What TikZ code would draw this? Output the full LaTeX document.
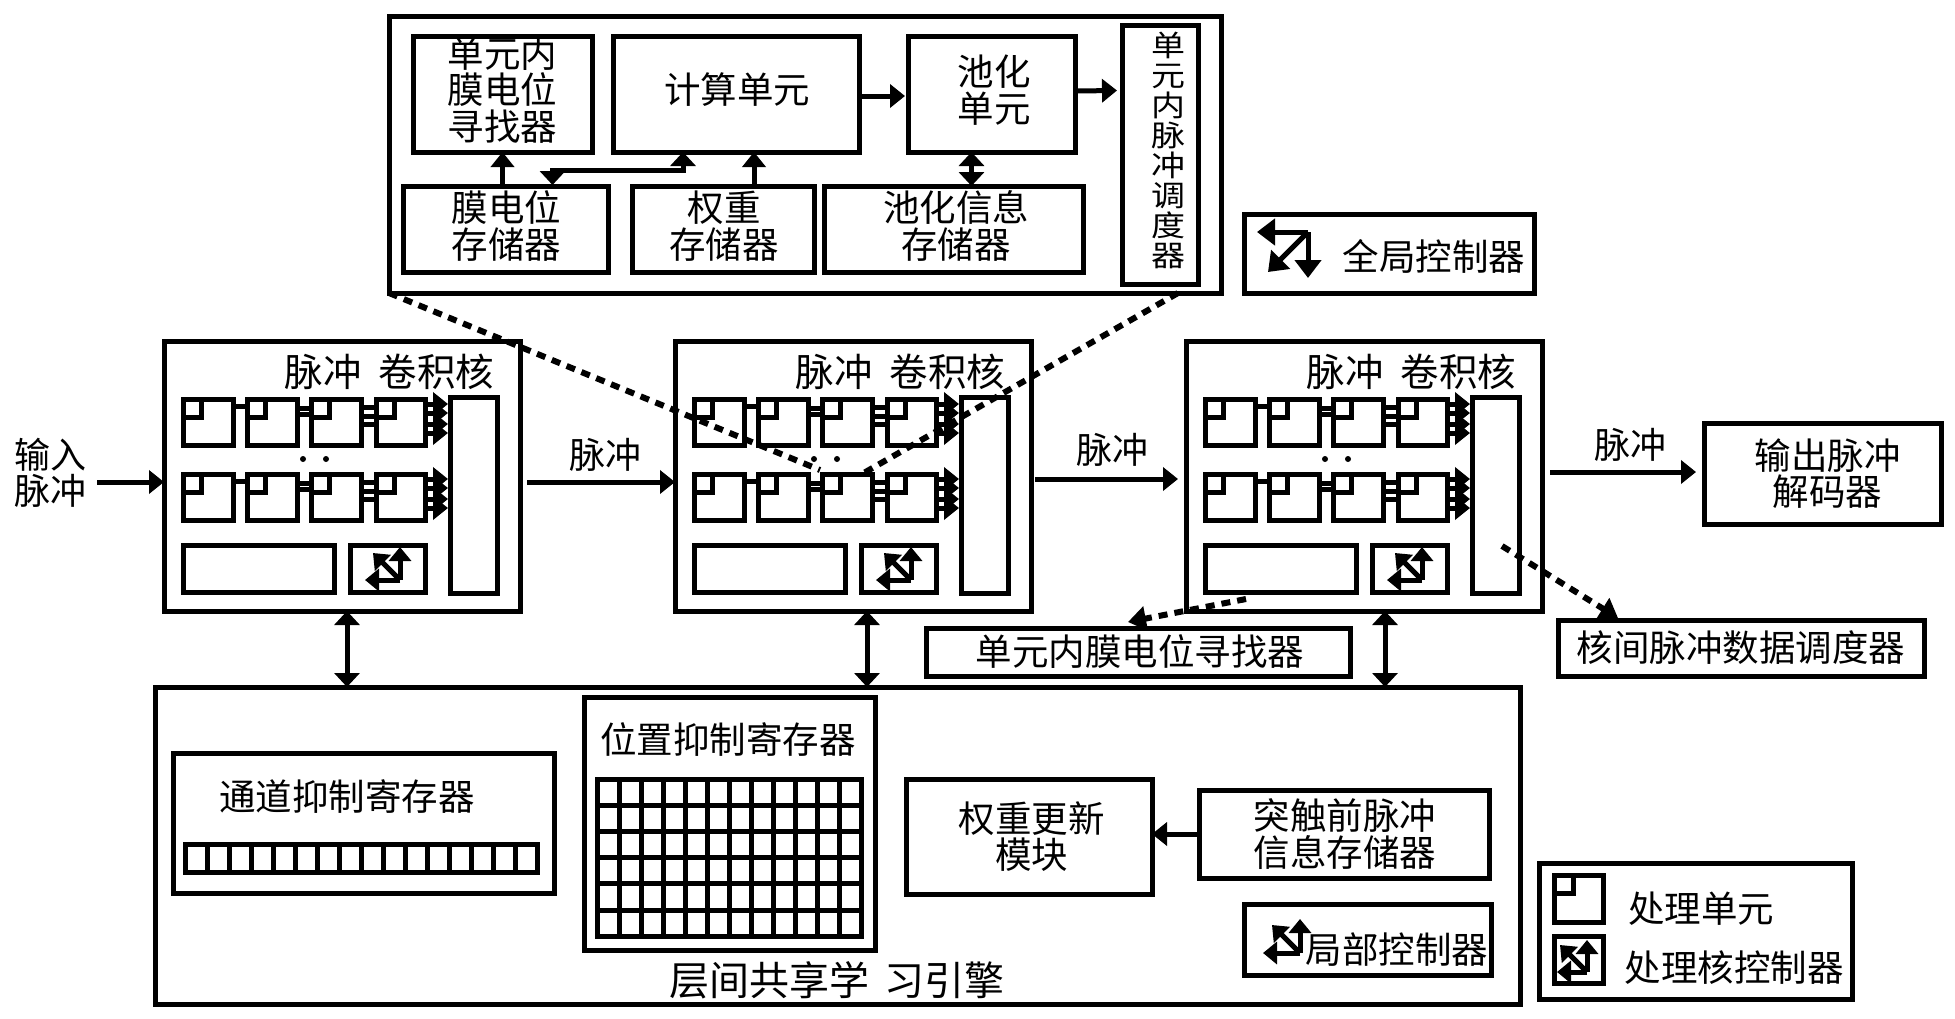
\documentclass[tikz,border=0pt]{standalone}
\usepackage{graphicx}
\usepackage{fontspec}
\setmainfont{Noto Sans CJK SC}
\usetikzlibrary{arrows.meta,calc}
\newcommand{\sq}[1]{\scalebox{1}[0.86]{#1}}
\newcommand{\tightlines}{\lineskiplimit=-50pt\relax}
\newcommand{\bx}[5]{%
  \pgfmathsetmacro\bxw{(#4)-(#2)}\pgfmathsetmacro\bxh{(#5)-(#3)}%
  \node[boxs,minimum width=\bxw pt,minimum height=\bxh pt,anchor=north west] (#1) at (#2,#3) {};}
\newcommand{\bxt}[8]{%
  \bx{#1}{#2}{#3}{#4}{#5}
  \node[txt] (#1t) at ($(#1.center)+(#6,#7)$) {#8};}
\newcommand{\ctrlicon}[7][icon]{%
  \coordinate (ic) at (#2,#3);
  \draw[#1] (ic) -- ++(-#5,0);
  \draw[#1] (ic) -- ++(0,#4*#6);
  \draw[#1] (ic) -- ++(-#7,#4*#7);}
\tikzset{
  x=1pt,y=-1pt,
  boxs/.style={draw,line width=5pt,inner sep=0pt,outer sep=0pt},
  txt/.style={inner sep=0pt,outer sep=0pt,align=center,font=\fontsize{36.5}{36.5}\selectfont},
  arr/.style={line width=5pt,-{Triangle[width=23pt,length=15pt]}},
  icon/.style={line width=5pt,-{Triangle[width=26pt,length=18pt]}},
  iconsm/.style={line width=5pt,-{Triangle[width=22pt,length=14pt]}},
  dbl/.style={line width=5pt,{Triangle[width=25pt,length=14pt]}-{Triangle[width=25pt,length=14pt]}},
  wire/.style={line width=5pt},
  dot/.style={line width=6pt,dash pattern=on 9pt off 7pt},
  dotarr/.style={dot,-{Triangle[width=24pt,length=18pt]}},
}
\begin{document}
\begin{tikzpicture}
\useasboundingbox (0,0) rectangle (1955,1018);
% top detail box
\bx{top}{389}{16}{1221}{293}
\bxt{finder}{413}{36}{592}{152}{0}{-4}{单元内\\膜电位\\寻找器}
\bxt{calcu}{613}{36}{859}{152}{1}{-4}{计算单元}
\bxt{pool}{908}{36}{1075}{152}{2.5}{-4}{池化\\单元}
\bx{sched}{1122}{25}{1198}{284}
\node[txt,font=\fontsize{34}{30}\selectfont\tightlines] (schedt) at (1168,150) {\sq{单}\\\sq{元}\\\sq{内}\\\sq{脉}\\\sq{冲}\\\sq{调}\\\sq{度}\\\sq{器}};
\bxt{mem}{403}{186}{608}{272}{1}{-3}{膜电位\\存储器}
\bxt{wgt}{632}{186}{814}{272}{1}{-3}{权重\\存储器}
\bxt{pinfo}{824}{186}{1083}{272}{2.5}{-3}{池化信息\\存储器}
\draw[arr] (finder.south |- mem.north) -- (finder.south);
\draw[dbl] ($(mem.north)+(47,-1)$) -- ++(0,-15) -| ($(calcu.south)+(-53,0)$);
\draw[arr] ($(wgt.north)+(31,0)$) -- ($(calcu.south)+(18,0)$);
\draw[arr] ($(calcu.east)+(0,2)$) -- ($(pool.west)+(-3,2)$);
\draw[arr] ($(pool.east)+(0,-3)$) -- ($(sched.west)+(-5,-64)$);
\draw[dbl] ($(pool.south)+(-20,0)$) -- ($(pinfo.north)+(18,0)$);
% global controller
\bx{glob}{1244}{214}{1534}{293}
\ctrlicon{1308}{232}{1}{51}{46}{40}
\node[txt] (globt) at (1434,256) {全局控制器};
% kernels
\foreach \k/\o in {1/0,2/511,3/1022}{
  \bx{k\k}{164+\o}{341}{520+\o}{611}
  \node[txt,font=\fontsize{38.5}{38}\selectfont] (k\k t) at (389.5+\o,372) {脉冲\hspace{17pt}卷积核};
  \bx{k\k bar}{450+\o}{397}{497+\o}{593}
  \bx{k\k reg}{183+\o}{545}{334+\o}{592}
  \bx{k\k ctl}{350+\o}{545}{425+\o}{592}
  \ctrlicon[iconsm]{400+\o}{580}{-1}{35}{33}{27}
  \fill (303+\o,459) circle (3) (326+\o,459) circle (3);
  \foreach \r/\yt in {1/399,2/474}{
    \foreach \c/\xl/\xr in {1/183/233,2/247/297,3/311/361,4/376/425}{
      \bx{k\k r\r c\c}{\xl+\o}{\yt}{\xr+\o}{\yt+46}
      \draw[wire] ($(k\k r\r c\c.north west)+(18,0)$) |- ($(k\k r\r c\c.north west)+(0,18)$);
    }
    \draw[wire] ($(k\k r\r c1.north east)+(0,7)$) -- ($(k\k r\r c2.north west)+(0,7)$);
    \foreach \d in {9,15}
      {\draw[wire] ($(k\k r\r c2.north east)+(0,\d)$) -- ($(k\k r\r c3.north west)+(0,\d)$);}
    \foreach \d in {8,17,25}
      {\draw[wire] ($(k\k r\r c3.north east)+(0,\d)$) -- ($(k\k r\r c4.north west)+(0,\d)$);}
    \foreach \d in {5,14,25,34}
      {\draw[arr] ($(k\k r\r c4.north east)+(0,\d)$) -- ($(k\k r\r c4.north east)+(23,\d)$);}
  }
}
% dashed zoom lines
\coordinate (zl) at (820,470);
\coordinate (zr) at (862,474);
\draw[dot] (top.south west) -- (zl);
\draw[dot] ($(top.south east)+(-43,0)$) -- (zr);
% data-flow arrows
\coordinate (inp) at (97,482);
\draw[arr] (inp) -- (inp -| k1.west);
\node[txt,font=\fontsize{36}{36}\selectfont] (inpt) at (50,473) {输入\\脉冲};
\draw[arr] ($(k1.east)+(7,6)$) -- ($(k2.west)+(0,6)$);
\node[txt,font=\fontsize{36}{36}\selectfont] (p1) at (605,455) {脉冲};
\draw[arr] ($(k2.east)+(4,3)$) -- ($(k3.west)+(-8,3)$);
\node[txt,font=\fontsize{36}{36}\selectfont] (p2) at (1112,450) {脉冲};
\bxt{dec}{1704}{423}{1941}{524}{5}{0}{输出脉冲\\解码器}
\draw[arr] ($(k3.east)+(8,-4)$) -- ($(k3.east)+(154,-4)$);
\node[txt,font=\fontsize{36}{36}\selectfont] (p3) at (1630,445) {脉冲};
% shared learning engine
\bx{learn}{155}{687}{1520}{1004}
\node[txt,font=\fontsize{40}{40}\selectfont] (learnt) at (837,980) {层间共享学\hspace{15pt}习引擎};
\bxt{fnd2}{926}{628}{1350}{676}{2}{0}{单元内膜电位寻找器}
\bxt{inter}{1558}{620}{1924}{676}{0}{0}{核间脉冲数据调度器}
\draw[dbl] ($(k1.south)+(5,0)$) -- ($(learn.north west)+(192,0)$);
\draw[dbl] ($(k2.south)+(14,0)$) -- ($(learn.north west)+(712,0)$);
\draw[dbl] ($(k3.south)+(21,0)$) -- ($(learn.north west)+(1230,0)$);
\draw[dotarr] (1246,599) -- ($(fnd2.north)+(-10,-6)$);
\draw[dotarr] (1502,546) -- ($(inter.north west)+(60,-2)$);
% weight update
\bxt{upd}{906}{779}{1152}{894}{2.5}{0}{权重更新\\模块}
\bxt{pre}{1199}{790}{1489}{878}{1}{0}{突触前脉冲\\信息存储器}
\draw[arr] (pre.west) -- (upd.east |- pre.west);
\bx{loc}{1244}{904}{1491}{975}
\ctrlicon[iconsm]{1300}{953}{-1}{37}{34}{28}
\node[txt] (loct) at (1397,950) {局部控制器};
% legend
\bx{leg}{1539}{863}{1852}{999}
\bx{legpe}{1554}{875}{1603}{922}
\draw[wire] ($(legpe.north west)+(19,0)$) |- ($(legpe.north west)+(0,18)$);
\node[txt] (legt1) at (1701,909) {处理单元};
\bx{legct}{1554}{936}{1603}{983}
\ctrlicon[iconsm]{1587}{972}{-1}{30}{32}{27}
\node[txt] (legt2) at (1734,968) {处理核控制器};
% channel register
\bx{chan}{173}{753}{554}{893}
\node[txt] (chant) at (347,797) {通道抑制寄存器};
\bx{posr}{584}{697}{875}{950}
\node[txt] (post) at (728,739) {位置抑制寄存器};
\foreach \i in {0,...,15}
  {\bx{cc\i}{185+22*\i}{844}{207+22*\i}{872}}
% position register
\foreach \i in {0,...,11}{\foreach \j in {0,...,5}
  {\bx{pc\i-\j}{597+22*\i}{779+26.2*\j}{619+22*\i}{805.2+26.2*\j}}}
\end{tikzpicture}
\end{document}
